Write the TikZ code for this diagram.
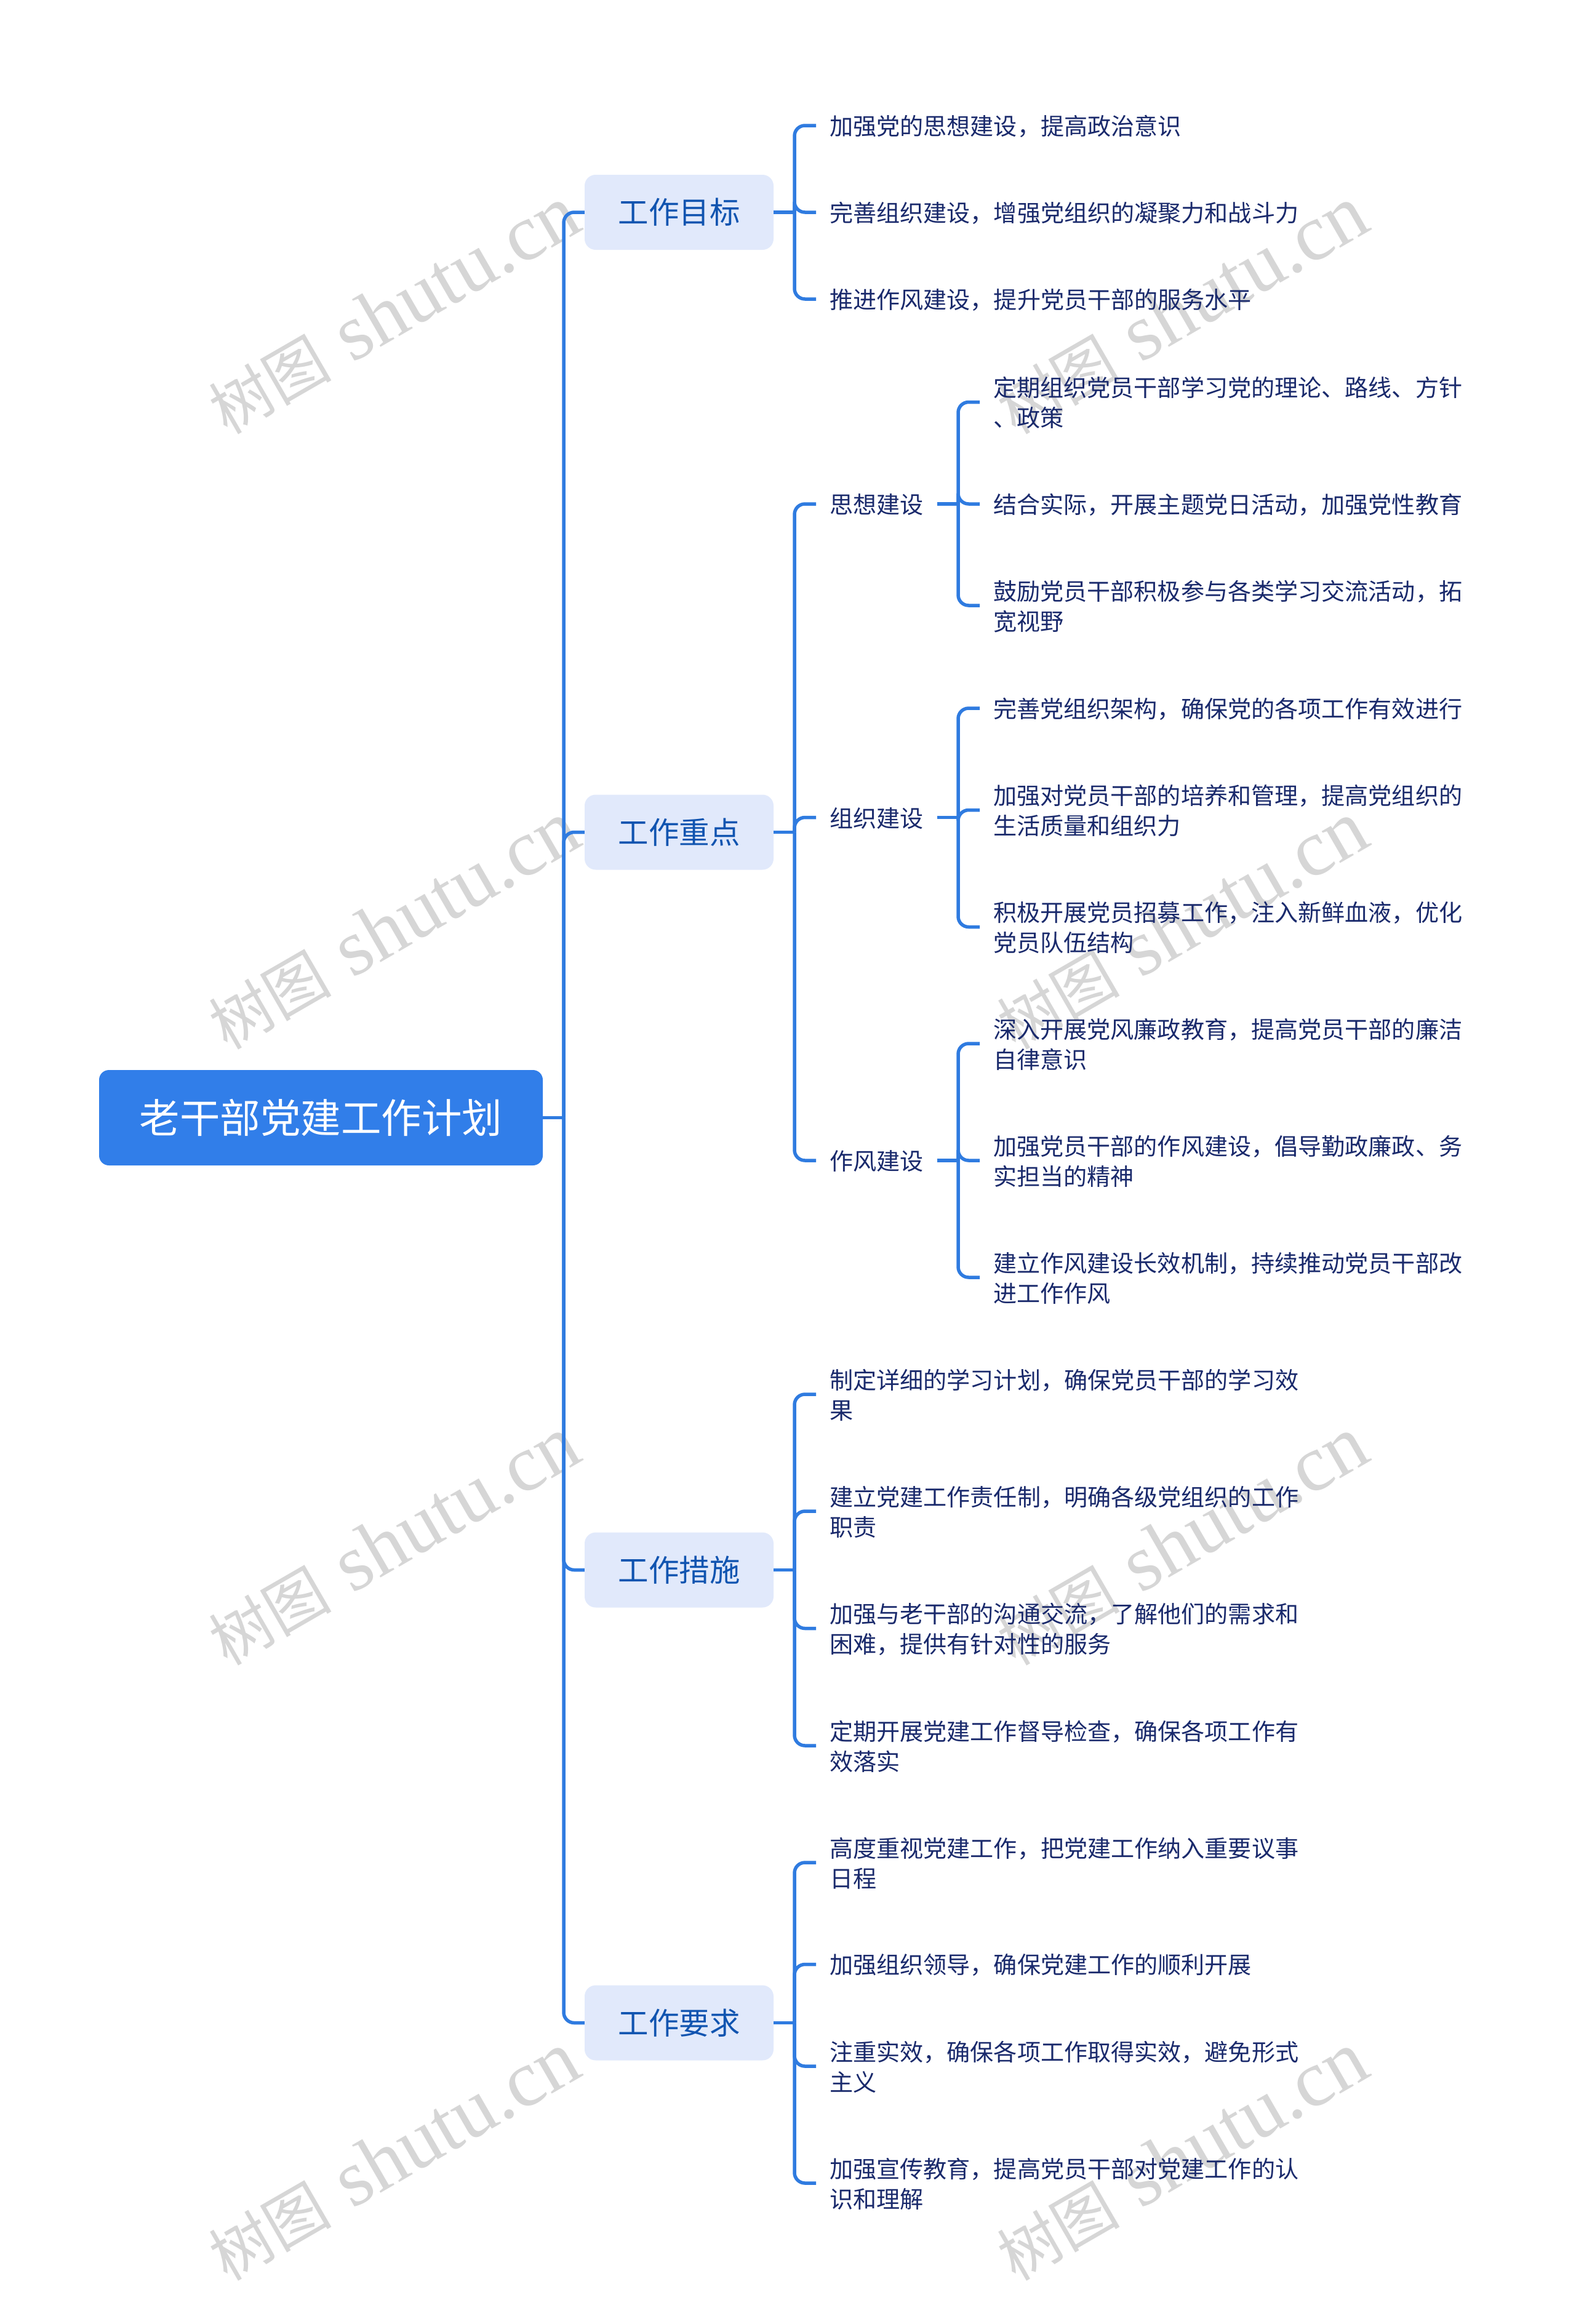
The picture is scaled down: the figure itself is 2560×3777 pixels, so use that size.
\documentclass[tikz,border=0pt]{standalone}
\usepackage{fontspec}
\setmainfont{Noto Sans CJK SC}
\newfontfamily\wmlatin{Liberation Serif}
\definecolor{rootblue}{HTML}{317EE9}
\definecolor{linkblue}{HTML}{2F7BE0}
\definecolor{topicfill}{HTML}{E1E9FB}
\definecolor{topicink}{HTML}{1054B0}
\definecolor{leafink}{HTML}{1A2A6C}
\definecolor{wmgrey}{HTML}{D6D6D6}
\tikzset{
  rootbox/.style={fill=rootblue,text=white,rounded corners=16pt,minimum width=721pt,minimum height=155pt,inner sep=0pt,font=\fontsize{65.5}{78}\selectfont},
  topicbox/.style={fill=topicfill,text=topicink,rounded corners=18pt,minimum width=307pt,minimum height=122pt,inner sep=0pt,font=\fontsize{49.5}{60}\selectfont},
  leafbox/.style={anchor=west,yshift=-1.2pt,text=leafink,inner xsep=22pt,inner ysep=0pt,align=left,font=\fontsize{38.1}{49}\selectfont},
  trunk/.style={draw=linkblue,line width=5.5pt,rounded corners=17pt},
  wmark/.style={anchor=base,text=wmgrey,rotate=30,inner sep=0pt,font=\fontsize{100}{110}\selectfont},
}
\newcommand{\wmtext}{树图\hspace{35pt}{\wmlatin\fontsize{130}{135}\selectfont shutu.cn}}
\begin{document}
\begin{tikzpicture}[x=1pt,y=-1pt]
\useasboundingbox (0,0) rectangle (2560,3777);
\fill[white] (0,0) rectangle (2560,3777);
% watermarks
\foreach \c [count=\i] in {(660,540),(660,1540),(660,2540),(660,3540),(1941,540),(1941,1540),(1941,2540),(1941,3540)}
  \node[wmark,name=wm\i] at \c {\wmtext};
% nodes
\node[rootbox] (root) at (521.5,1816.5) {老干部党建工作计划};
\node[topicbox] (t1) at (1103.5,345) {工作目标};
\node[topicbox] (t2) at (1103.5,1352.5) {工作重点};
\node[topicbox] (t3) at (1103.5,2551.5) {工作措施};
\node[topicbox] (t4) at (1103.5,3287.5) {工作要求};
\node[leafbox] (a1) at (1326,204) {加强党的思想建设，提高政治意识};
\node[leafbox] (a2) at (1326,345) {完善组织建设，增强党组织的凝聚力和战斗力};
\node[leafbox] (a3) at (1326,486) {推进作风建设，提升党员干部的服务水平};
\node[leafbox] (b1) at (1326,819) {思想建设};
\node[leafbox] (b2) at (1326,1328.5) {组织建设};
\node[leafbox] (b3) at (1326,1886) {作风建设};
\node[leafbox] (b11) at (1592,653.5) {定期组织党员干部学习党的理论、路线、方针\\、政策};
\node[leafbox] (b12) at (1592,819) {结合实际，开展主题党日活动，加强党性教育};
\node[leafbox] (b13) at (1592,984) {鼓励党员干部积极参与各类学习交流活动，拓\\宽视野};
\node[leafbox] (b21) at (1592,1151) {完善党组织架构，确保党的各项工作有效进行};
\node[leafbox] (b22) at (1592,1316.5) {加强对党员干部的培养和管理，提高党组织的\\生活质量和组织力};
\node[leafbox] (b23) at (1592,1506.5) {积极开展党员招募工作，注入新鲜血液，优化\\党员队伍结构};
\node[leafbox] (b31) at (1592,1696) {深入开展党风廉政教育，提高党员干部的廉洁\\自律意识};
\node[leafbox] (b32) at (1592,1886) {加强党员干部的作风建设，倡导勤政廉政、务\\实担当的精神};
\node[leafbox] (b33) at (1592,2076) {建立作风建设长效机制，持续推动党员干部改\\进工作作风};
\node[leafbox] (c1) at (1326,2266) {制定详细的学习计划，确保党员干部的学习效\\果};
\node[leafbox] (c2) at (1326,2456) {建立党建工作责任制，明确各级党组织的工作\\职责};
\node[leafbox] (c3) at (1326,2646.5) {加强与老干部的沟通交流，了解他们的需求和\\困难，提供有针对性的服务};
\node[leafbox] (c4) at (1326,2837) {定期开展党建工作督导检查，确保各项工作有\\效落实};
\node[leafbox] (d1) at (1326,3027) {高度重视党建工作，把党建工作纳入重要议事\\日程};
\node[leafbox] (d2) at (1326,3192.5) {加强组织领导，确保党建工作的顺利开展};
\node[leafbox] (d3) at (1326,3358) {注重实效，确保各项工作取得实效，避免形式\\主义};
\node[leafbox] (d4) at (1326,3548) {加强宣传教育，提高党员干部对党建工作的认\\识和理解};
% junctions
\coordinate (j0) at (916,1816.5);
\coordinate (j1) at (1291,345);
\coordinate (j2) at (1291,1352.5);
\coordinate (j3) at (1291,2551.5);
\coordinate (j4) at (1291,3287.5);
\coordinate (k1) at (1557,819);
\coordinate (k2) at (1557,1328.5);
\coordinate (k3) at (1557,1886);
% connectors
\draw[trunk] (root.east) -- (j0);
\foreach \t in {t1,t2,t3,t4} \draw[trunk] (j0) |- (\t.west);
\foreach \t/\j in {t1/j1,t2/j2,t3/j3,t4/j4} \draw[trunk] (\t.east) -- (\j);
\foreach \n in {a1,a2,a3} \draw[trunk] (j1) |- ([yshift=1.2pt]\n.west);
\foreach \n in {b1,b2,b3} \draw[trunk] (j2) |- ([yshift=1.2pt]\n.west);
\foreach \n in {c1,c2,c3,c4} \draw[trunk] (j3) |- ([yshift=1.2pt]\n.west);
\foreach \n in {d1,d2,d3,d4} \draw[trunk] (j4) |- ([yshift=1.2pt]\n.west);
\foreach \n/\j in {b1/k1,b2/k2,b3/k3} \draw[trunk] ([yshift=1.2pt]\n.east) -- (\j);
\foreach \n in {b11,b12,b13} \draw[trunk] (k1) |- ([yshift=1.2pt]\n.west);
\foreach \n in {b21,b22,b23} \draw[trunk] (k2) |- ([yshift=1.2pt]\n.west);
\foreach \n in {b31,b32,b33} \draw[trunk] (k3) |- ([yshift=1.2pt]\n.west);
\end{tikzpicture}
\end{document}
